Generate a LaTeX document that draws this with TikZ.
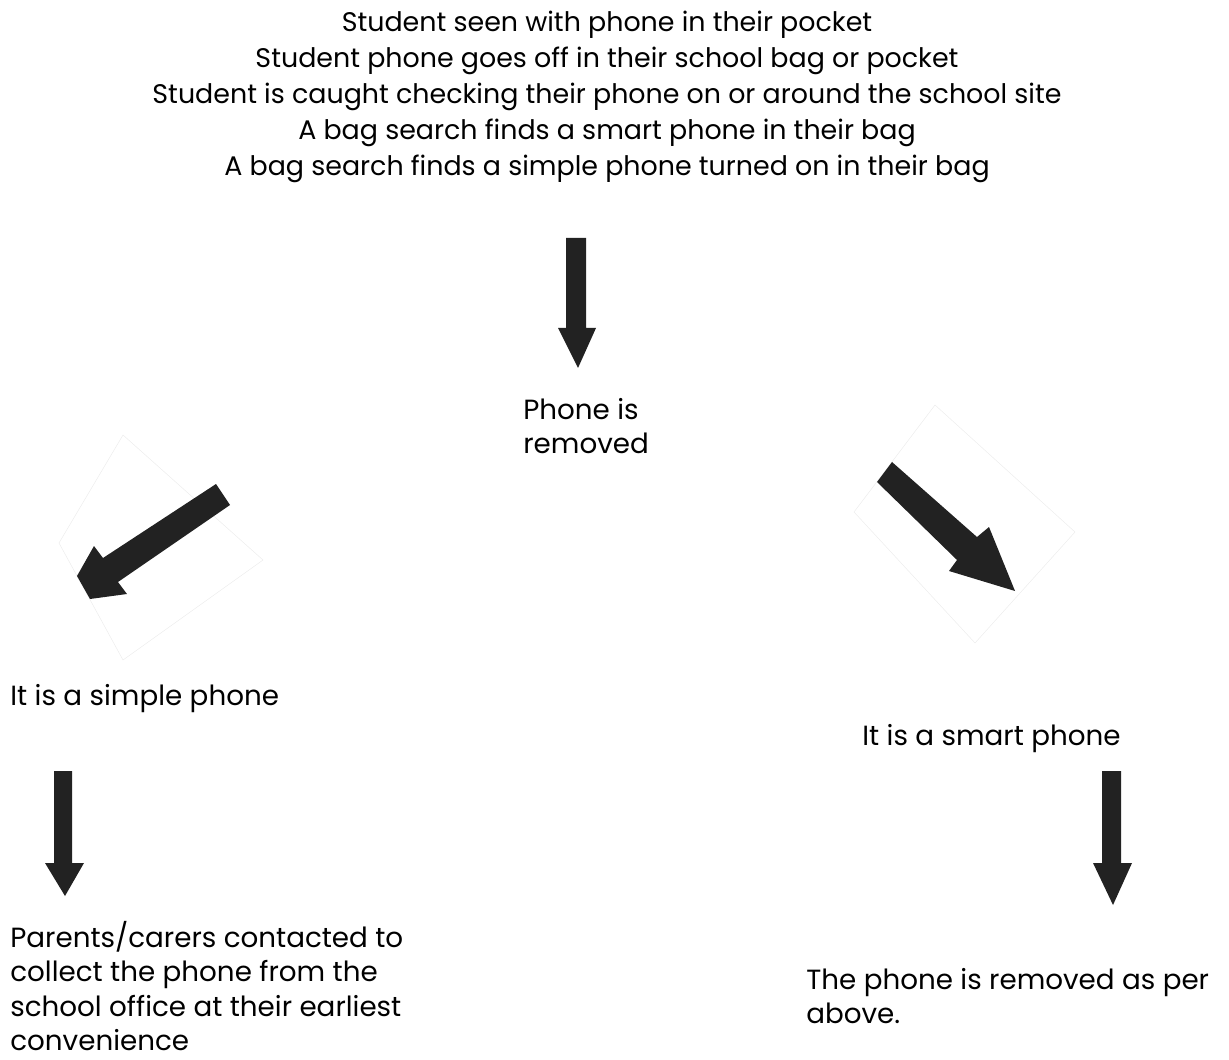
\documentclass[tikz,border=0pt]{standalone}
\usepackage{fontspec}
\setmainfont{Poppins}
\definecolor{arrowgrey}{HTML}{222222}
\tikzset{
  blockarrow/.style={fill=arrowgrey, draw=none},
  scanbox/.style={draw=black!7, line width=0.3pt},
  flowtext/.style={font=\fontsize{15.8}{19.5}\selectfont, inner sep=0pt},
  headtext/.style={font=\fontsize{15.3}{20.5}\selectfont, inner sep=0pt},
}
\begin{document}
\begin{tikzpicture}[x=0.02cm, y=-0.02cm]
        \useasboundingbox (0,0) rectangle (1229,1060);
        % the situations
        \node[headtext, align=center] (causes) at (607,97) {Student seen with phone in their pocket\\
            Student phone goes off in their school bag or pocket\\
            Student is caught checking their phone on or around the school site\\
            A bag search finds a smart phone in their bag\\
            A bag search finds a simple phone turned on in their bag};
        \node[flowtext, align=left, anchor=west] (removed) at (523,426) {Phone is\\removed};
        \node[flowtext, anchor=west] (simple) at (10,699) {It is a simple phone};
        \node[flowtext, anchor=west] (smart) at (862,739) {It is a smart phone};
        \node[flowtext, align=left, anchor=west, text depth=0pt] (parents) at (10,986) {Parents/carers contacted to\\
            collect the phone from the\\
            school office at their earliest\\
            convenience};
        \node[flowtext, align=left, anchor=west] (asabove) at (806,996) {The phone is removed as per\\above.};
        % arrows
        \fill[blockarrow] (566,238) -- (586,238) -- (586,328) -- (596,328) -- (578,368) -- (558,328) -- (566,328) -- cycle;
        \draw[scanbox] (59,543) -- (123,435) -- (263,560) -- (123,660) -- cycle;
        \fill[blockarrow] (216,484) -- (230,505) -- (118,582) -- (127,594) -- (90,599) -- (77,576) -- (94,546) -- (103,558) -- cycle;
        \draw[scanbox] (854,512) -- (935,405) -- (1075,532) -- (975,643) -- cycle;
        \fill[blockarrow] (892,462) -- (877,482) -- (957,560) -- (949,571) -- (1015,591) -- (989,527) -- (977,537) -- cycle;
        \fill[blockarrow] (54,771) -- (72,771) -- (72,863) -- (84,863) -- (65,896) -- (45,863) -- (54,863) -- cycle;
        \fill[blockarrow] (1102,771) -- (1121,771) -- (1121,863) -- (1132,863) -- (1113,905) -- (1093,863) -- (1102,863) -- cycle;
    \end{tikzpicture}
\end{document}
